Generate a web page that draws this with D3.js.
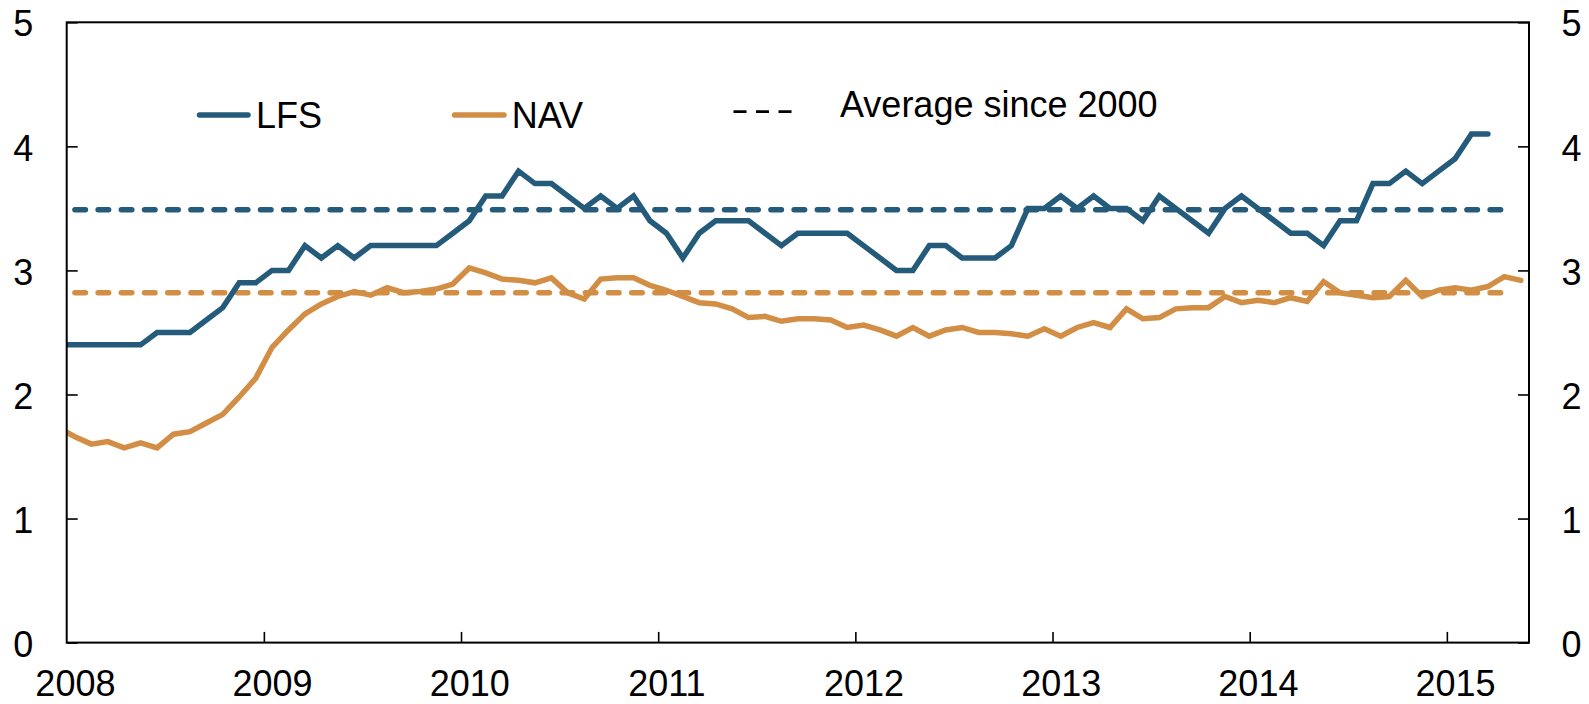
<!DOCTYPE html>
<html><head><meta charset="utf-8">
<script src="https://cdn.jsdelivr.net/npm/d3@7"></script>
<style>
html,body{margin:0;padding:0;background:#fff;}
svg{display:block;}
text{font-family:"Liberation Sans",Arial,Helvetica,sans-serif;fill:#000;}
</style>
</head><body>
<svg id="chart" width="1589" height="704"></svg>
<script>
// Monthly observations; the first value (Dec 2007) lies just left of the axis and is clipped.
const firstMonth = "2007-12";
const yearLabels = ["2008","2009","2010","2011","2012","2013","2014","2015"];
const yTickValues = [0, 1, 2, 3, 4, 5];
const seriesNames = ["LFS", "NAV", "Average since 2000"];

const lfs = [2.4,
  2.4,2.4,2.4,2.4,2.4,2.5,2.5,2.5,2.6,2.7,2.9,2.9,            // 2008
  3.0,3.0,3.2,3.1,3.2,3.1,3.2,3.2,3.2,3.2,3.2,3.3,            // 2009
  3.4,3.6,3.6,3.8,3.7,3.7,3.6,3.5,3.6,3.5,3.6,3.4,            // 2010
  3.3,3.1,3.3,3.4,3.4,3.4,3.3,3.2,3.3,3.3,3.3,3.3,            // 2011
  3.2,3.1,3.0,3.0,3.2,3.2,3.1,3.1,3.1,3.2,3.5,3.5,            // 2012
  3.6,3.5,3.6,3.5,3.5,3.4,3.6,3.5,3.4,3.3,3.5,3.6,            // 2013
  3.5,3.4,3.3,3.3,3.2,3.4,3.4,3.7,3.7,3.8,3.7,3.8,            // 2014
  3.9,4.1,4.1,null,null];                                      // 2015

const nav = [1.73,
  1.66,1.60,1.62,1.57,1.61,1.57,1.68,1.70,1.77,1.84,1.98,2.13, // 2008
  2.38,2.52,2.65,2.73,2.79,2.83,2.80,2.86,2.82,2.83,2.85,2.89, // 2009
  3.02,2.98,2.93,2.92,2.90,2.94,2.82,2.77,2.93,2.94,2.94,2.88, // 2010
  2.84,2.79,2.74,2.73,2.69,2.62,2.63,2.59,2.61,2.61,2.60,2.54, // 2011
  2.56,2.52,2.47,2.54,2.47,2.52,2.54,2.50,2.50,2.49,2.47,2.53, // 2012
  2.47,2.54,2.58,2.54,2.69,2.61,2.62,2.69,2.70,2.70,2.79,2.74, // 2013
  2.76,2.74,2.78,2.75,2.91,2.82,2.80,2.78,2.79,2.92,2.79,2.84, // 2014
  2.86,2.84,2.87,2.95,2.92];                                    // 2015

const avgLFS = 3.49;
const avgNAV = 2.82;
const avgMonths = [0, 87];   // month indexes (from Jan 2008) spanned by the average lines

const colLFS = "#245b7b";
const colNAV = "#d18e44";

const W = 1589, H = 704;
const plot = {left: 66.7, right: 1529, top: 22.3, bottom: 642.6};
const nMonths = 89;

const svg = d3.select("#chart");

const x = d3.scaleLinear().domain([0, nMonths]).range([plot.left, plot.right]);
const y = d3.scaleLinear().domain([0, 5]).range([plot.bottom, plot.top]);

const lfsData = lfs.map((v, i) => ({m: i - 1, v}));
const navData = nav.map((v, i) => ({m: i - 1, v}));

svg.append("defs").append("clipPath").attr("id", "clip")
  .append("rect").attr("x", plot.left).attr("y", plot.top)
  .attr("width", plot.right - plot.left).attr("height", plot.bottom - plot.top);

const line = d3.line()
  .defined(d => d.v != null)
  .x(d => x(d.m + 0.5)).y(d => y(d.v));

const g = svg.append("g").attr("clip-path", "url(#clip)");

[[avgLFS, colLFS], [avgNAV, colNAV]].forEach(([v, c]) => {
  g.append("path")
    .datum(avgMonths.map(m => ({m, v})))
    .attr("d", line)
    .attr("fill", "none").attr("stroke", c)
    .attr("stroke-width", 5.5).attr("stroke-linecap", "round")
    .attr("stroke-dasharray", "10.5 12.7");
});

g.append("path").datum(navData).attr("d", line)
  .attr("fill", "none").attr("stroke", colNAV).attr("stroke-width", 5.5)
  .attr("stroke-linejoin", "miter").attr("stroke-linecap", "round");

g.append("path").datum(lfsData).attr("d", line)
  .attr("fill", "none").attr("stroke", colLFS).attr("stroke-width", 5.5)
  .attr("stroke-linejoin", "miter").attr("stroke-linecap", "round");

const fs = 36;
const yl = svg.append("g").attr("transform", `translate(${plot.left},0)`)
  .call(d3.axisLeft(y).tickValues(yTickValues).tickSizeInner(-11).tickSizeOuter(0).tickPadding(33.4).tickFormat(d3.format("d")));
const yr = svg.append("g").attr("transform", `translate(${plot.right},0)`)
  .call(d3.axisRight(y).tickValues(yTickValues).tickSizeInner(-11).tickSizeOuter(0).tickPadding(32.5).tickFormat(d3.format("d")));
[yl, yr].forEach(a => {
  a.select(".domain").remove();
  a.selectAll("text").attr("font-size", fs).attr("dy", "0.38em").style("font-family", '"Liberation Sans",Arial,sans-serif').attr("fill", "#000");
  a.selectAll("line").attr("stroke", "#000").attr("stroke-width", 1.6);
});

const yearTicks = yearLabels.map((_, i) => i * 12);
const xt = svg.append("g").attr("transform", `translate(0,${plot.bottom})`)
  .call(d3.axisBottom(x).tickValues(yearTicks.slice(1)).tickSizeInner(-10.7).tickSizeOuter(0).tickFormat(""));
xt.select(".domain").remove();
xt.selectAll("line").attr("stroke", "#000").attr("stroke-width", 1.6);

const xl = svg.append("g").attr("transform", `translate(0,${plot.bottom})`)
  .call(d3.axisBottom(x).tickValues(yearTicks.map(t => t + 0.5)).tickSize(0).tickPadding(27.8)
    .tickFormat((d, i) => yearLabels[i]));
xl.select(".domain").remove();
xl.selectAll("text").attr("font-size", fs).style("font-family", '"Liberation Sans",Arial,sans-serif').attr("fill", "#000");

svg.append("rect").attr("x", plot.left).attr("y", plot.top)
  .attr("width", plot.right - plot.left).attr("height", plot.bottom - plot.top)
  .attr("fill", "none").attr("stroke", "#000").attr("stroke-width", 2);

const lg = svg.append("g");
lg.append("line").attr("x1", 199.5).attr("x2", 248).attr("y1", 115).attr("y2", 115)
  .attr("stroke", colLFS).attr("stroke-width", 5.5).attr("stroke-linecap", "round");
lg.append("text").attr("x", 256).attr("y", 128.3).attr("font-size", fs).text(seriesNames[0]);
lg.append("line").attr("x1", 454.5).attr("x2", 504).attr("y1", 115).attr("y2", 115)
  .attr("stroke", colNAV).attr("stroke-width", 5.5).attr("stroke-linecap", "round");
lg.append("text").attr("x", 511.7).attr("y", 128.3).attr("font-size", fs).text(seriesNames[1]);
lg.append("line").attr("x1", 733.5).attr("x2", 791.5).attr("y1", 111.7).attr("y2", 111.7)
  .attr("stroke", "#000").attr("stroke-width", 2.7).attr("stroke-dasharray", "13 9.5");
lg.append("text").attr("x", 840).attr("y", 116.7).attr("font-size", fs).text(seriesNames[2]);
</script>
</body></html>
